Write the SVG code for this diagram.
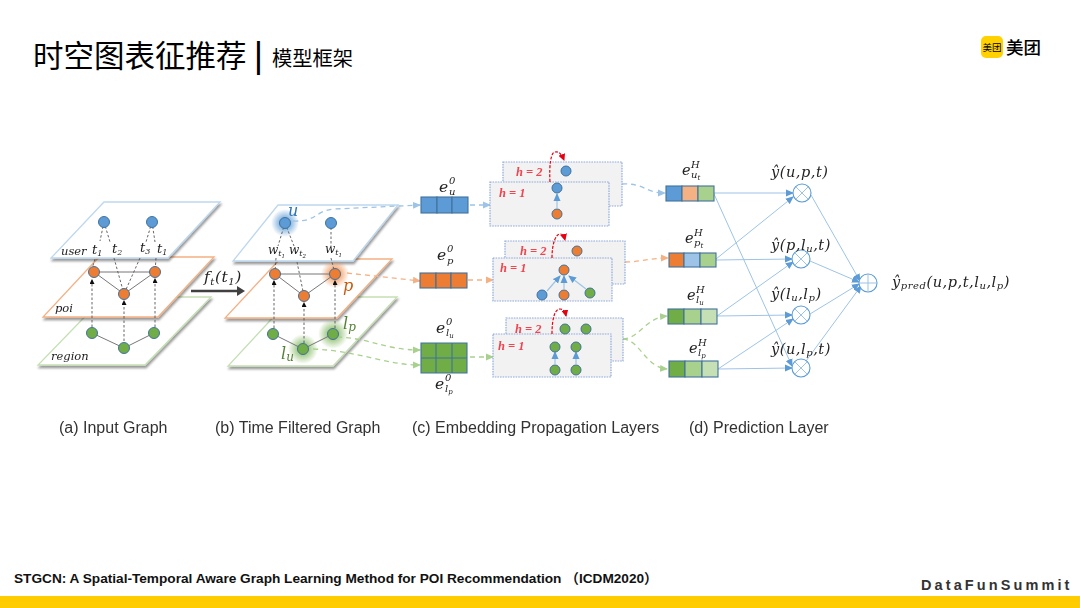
<svg xmlns="http://www.w3.org/2000/svg" width="1080" height="608" viewBox="0 0 1080 608">
<style>
.cjk{font-family:"Noto Sans CJK SC","Noto Sans",sans-serif;fill:#000}
.cap{font-family:"Liberation Sans",Arial,sans-serif;font-size:16px;fill:#333}
.m{font-family:"DejaVu Serif","Liberation Serif",serif;font-style:italic;fill:#222}
.w{letter-spacing:.55px}
.s{font-size:10px}.ss{font-size:8px}
.plane{fill:#fff;stroke-width:1.3;filter:url(#sh)}
.pb{stroke:#bdd7ee}.po{stroke:#f4b183}.pg{stroke:#c5e0b4}
.nb{fill:#5b9bd5;stroke:#41719c;stroke-width:1}
.no{fill:#ed7d31;stroke:#41719c;stroke-width:1}
.ng{fill:#70ad47;stroke:#41719c;stroke-width:1}
.e{fill:none;stroke:#777;stroke-width:1}
.d{fill:none;stroke:#555;stroke-width:.9;stroke-dasharray:2.5 2}
.db{fill:none;stroke:#9dc3e6;stroke-width:1.3;stroke-dasharray:5 4}
.dob{fill:none;stroke:#f4b183;stroke-width:1.3;stroke-dasharray:5 4}
.dg{fill:none;stroke:#a9d18e;stroke-width:1.3;stroke-dasharray:5 4}
.box{fill:#f2f2f2;stroke:#8faadc;stroke-width:1.2;stroke-dasharray:1.6 1}
.h{font-family:"Liberation Serif",serif;font-style:italic;font-size:12.5px;font-weight:bold;fill:#ee4450}
.cell{stroke:#41719c;stroke-width:1.1}
.l{fill:none;stroke:#9dc3e6;stroke-width:1}
.op{fill:#fff;stroke:#5b9bd5;stroke-width:1.1}
.opl{stroke:#9dc3e6;stroke-width:1}
.up{stroke:#9dc3e6;stroke-width:1.2}
</style>
<defs>
<filter id="sh" x="-10%" y="-10%" width="120%" height="125%"><feDropShadow dx="1" dy="2.5" stdDeviation="1.1" flood-color="#000" flood-opacity=".4"/></filter>
<filter id="soft" x="0" y="0" width="100%" height="100%" filterUnits="userSpaceOnUse"><feGaussianBlur stdDeviation=".4"/></filter>
<radialGradient id="gb"><stop offset=".4" stop-color="#5b9bd5" stop-opacity=".7"/><stop offset="1" stop-color="#5b9bd5" stop-opacity="0"/></radialGradient>
<radialGradient id="go"><stop offset=".4" stop-color="#ed7d31" stop-opacity=".6"/><stop offset="1" stop-color="#ed7d31" stop-opacity="0"/></radialGradient>
<radialGradient id="gg"><stop offset=".4" stop-color="#70ad47" stop-opacity=".6"/><stop offset="1" stop-color="#70ad47" stop-opacity="0"/></radialGradient>
<marker id="ak" markerUnits="userSpaceOnUse" markerWidth="5" markerHeight="5" refX="4" refY="2.5" orient="auto"><path d="M0 0L5 2.5L0 5Z" fill="#111"/></marker>
<marker id="ab" markerUnits="userSpaceOnUse" markerWidth="8" markerHeight="8" refX="7" refY="4" orient="auto"><path d="M0 .5L8 4L0 7.5Z" fill="#9dc3e6"/></marker>
<marker id="ao" markerUnits="userSpaceOnUse" markerWidth="8" markerHeight="8" refX="7" refY="4" orient="auto"><path d="M0 .5L8 4L0 7.5Z" fill="#f4b183"/></marker>
<marker id="ag" markerUnits="userSpaceOnUse" markerWidth="8" markerHeight="8" refX="7" refY="4" orient="auto"><path d="M0 .5L8 4L0 7.5Z" fill="#a9d18e"/></marker>
<marker id="au" markerUnits="userSpaceOnUse" markerWidth="8" markerHeight="8" refX="7" refY="4" orient="auto"><path d="M0 .5L8 4L0 7.5Z" fill="#5b9bd5"/></marker>
<marker id="ar" markerUnits="userSpaceOnUse" markerWidth="7" markerHeight="7" refX="6" refY="3.5" orient="auto"><path d="M0 0L7 3.5L0 7Z" fill="#e60012"/></marker>
</defs>
<rect width="1080" height="608" fill="#fff"/>

<g id="title">
<text class="cjk" x="33" y="67" font-size="30.5">时空图表征推荐</text>
<text class="cjk" x="254" y="67" font-size="30" font-weight="bold">|</text>
<text class="cjk" x="272" y="66" font-size="20.3">模型框架</text>
</g>
<g id="logo">
<rect x="981" y="36" width="22" height="22" rx="5" fill="#ffd100"/>
<text class="cjk" x="992" y="51" font-size="9.5" text-anchor="middle">美团</text>
<text class="cjk" x="1006" y="54" font-size="17.5" font-weight="500">美团</text>
</g>

<g id="figure" filter="url(#soft)">
<g id="planes">
<path class="plane pg" d="M104 297H211L145 365H38Z"/>
<path class="plane po" d="M99 257H214L158 317H43Z"/>
<path class="plane pb" d="M104 202H220L168 258H51Z"/>
<path class="plane pg" d="M292 297H397L333 366H228Z"/>
<path class="plane po" d="M280 259H392L337 318H225Z"/>
<path class="plane pb" d="M278 205H398L353 261H233Z"/>
</g>

<g id="glows">
<circle cx="285" cy="223" r="14" fill="url(#gb)"/>
<circle cx="335" cy="274" r="14" fill="url(#go)"/>
<circle cx="303" cy="349" r="15" fill="url(#gg)"/>
<circle cx="333" cy="334" r="15" fill="url(#gg)"/>
</g>

<g id="connectors">
<path class="e" d="M94 272H155L124 294ZM92 333L124 348L154 333"/>
<path class="e" d="M275 274H335L304 296ZM273 334L303 349L333 334"/>
<path class="d" d="M104 222L100 241M95 259L91 272M104 222L110 242M114 258L124 294M152 222L146 242M140 258L124 294M152 222L155 242M156 258L155 272"/>
<path class="d" d="M285 223L278 246M276 258L275 272M285 223L294 246M297 262L304 296M331 223L331 246M331 258L335 274"/>
<path class="d" marker-end="url(#ak)" d="M92 327V280"/>
<path class="d" marker-end="url(#ak)" d="M124 341V301"/>
<path class="d" marker-end="url(#ak)" d="M155 327V279"/>
<path class="d" marker-end="url(#ak)" d="M274 328V281"/>
<path class="d" marker-end="url(#ak)" d="M304 343V303"/>
<path class="d" marker-end="url(#ak)" d="M335 328V281"/>
<path d="M191 291H240" stroke="#404040" stroke-width="2.5" fill="none"/>
<path d="M237 286L245 291L237 296Z" fill="#404040"/>
<path class="db" marker-end="url(#ab)" d="M293 221C318 222 315 210 335 209L420 205"/>
<path class="dob" marker-end="url(#ao)" d="M347 273L420 281"/>
<path class="dg" marker-end="url(#ag)" d="M337 337C370 338 385 350 420 350"/>
<path class="dg" marker-end="url(#ag)" d="M313 349C360 351 385 365 420 365"/>
<path class="db" marker-end="url(#ab)" d="M470 205H490"/>
<path class="dob" marker-end="url(#ao)" d="M468 280H493"/>
<path class="dg" marker-end="url(#ag)" d="M470 357H493"/>
<path class="db" marker-end="url(#ab)" d="M622 184C645 183 645 193 665 193"/>
<path class="dob" marker-end="url(#ao)" d="M625 262C640 262 650 258 668 258"/>
<path class="dg" marker-end="url(#ag)" d="M623 339C640 338 645 318 667 316"/>
<path class="dg" marker-end="url(#ag)" d="M623 339C640 340 645 367 667 369"/>
<path class="l" marker-end="url(#au)" d="M714 193H793"/>
<path class="l" marker-end="url(#au)" d="M714 194L792 366"/>
<path class="l" marker-end="url(#au)" d="M716 259L793 197"/>
<path class="l" marker-end="url(#au)" d="M716 260L792 259"/>
<path class="l" marker-end="url(#au)" d="M717 316L793 262"/>
<path class="l" marker-end="url(#au)" d="M717 316L792 315"/>
<path class="l" marker-end="url(#au)" d="M718 369L793 319"/>
<path class="l" marker-end="url(#au)" d="M718 369L792 368"/>
<path class="l" marker-end="url(#au)" d="M811 195L860 281"/>
<path class="l" marker-end="url(#au)" d="M810 261L859 282"/>
<path class="l" marker-end="url(#au)" d="M810 314L859 284"/>
<path class="l" marker-end="url(#au)" d="M806 361L861 286"/>
</g>

<g id="panel-a-nodes">
<circle id="a-u1" class="nb" cx="104" cy="222" r="5.5"/><circle id="a-u2" class="nb" cx="152" cy="222" r="5.5"/>
<circle id="a-p1" class="no" cx="94" cy="272" r="5.5"/><circle id="a-p2" class="no" cx="155" cy="272" r="5.5"/><circle id="a-p3" class="no" cx="124" cy="294" r="5.5"/>
<circle id="a-r1" class="ng" cx="92" cy="333" r="5.5"/><circle id="a-r2" class="ng" cx="124" cy="348" r="5.5"/><circle id="a-r3" class="ng" cx="154" cy="333" r="5.5"/>
</g>
<g id="panel-b-nodes">
<circle id="b-u1" class="nb" cx="285" cy="223" r="5.5"/><circle id="b-u2" class="nb" cx="331" cy="223" r="5.5"/>
<circle id="b-p1" class="no" cx="275" cy="274" r="5.5"/><circle id="b-p2" class="no" cx="335" cy="274" r="5.5"/><circle id="b-p3" class="no" cx="304" cy="296" r="5.5"/>
<circle id="b-r1" class="ng" cx="273" cy="334" r="5.5"/><circle id="b-r2" class="ng" cx="303" cy="349" r="5.5"/><circle id="b-r3" class="ng" cx="333" cy="334" r="5.5"/>
</g>

<g id="plane-labels">
<text class="m" x="61" y="255" font-size="11.5">user</text>
<text class="m" x="55" y="312" font-size="11.5">poi</text>
<text class="m" x="51" y="360" font-size="11.5">region</text>
<text class="m" x="92" y="254" font-size="13">t<tspan class="ss" dy="2">1</tspan></text>
<text class="m" x="112" y="253" font-size="13">t<tspan class="ss" dy="2">2</tspan></text>
<text class="m" x="140" y="252" font-size="13">t<tspan class="ss" dy="2">3</tspan></text>
<text class="m" x="157" y="253" font-size="13">t<tspan class="ss" dy="2">1</tspan></text>
<text class="m" x="268" y="254" font-size="12">w<tspan class="ss" dy="2">t</tspan><tspan font-size="5.5" dy="2">1</tspan></text>
<text class="m" x="289" y="254" font-size="12">w<tspan class="ss" dy="2">t</tspan><tspan font-size="5.5" dy="2">2</tspan></text>
<text class="m" x="325" y="253" font-size="12">w<tspan class="ss" dy="2">t</tspan><tspan font-size="5.5" dy="2">1</tspan></text>
<text class="m" x="288" y="216" font-size="16" style="fill:#2e75b6">u</text>
<text class="m" x="343" y="291" font-size="16" style="fill:#c55a11">p</text>
<text class="m" x="281" y="359" font-size="16" style="fill:#548235">l<tspan font-size="12" dy="2">u</tspan></text>
<text class="m" x="343" y="329" font-size="16" style="fill:#548235">l<tspan font-size="12" dy="2">p</tspan></text>
<text class="m w" x="204" y="282" font-size="15.5">f<tspan class="s" dy="3">t</tspan><tspan dy="-3">(t</tspan><tspan class="s" dy="3">1</tspan><tspan dy="-3">)</tspan></text>
</g>

<g id="layers-1">
<rect class="box" x="503" y="162" width="119" height="44"/>
<text class="h" x="516" y="176">h = 2</text>
<rect class="box" x="490" y="182" width="119" height="44"/>
<text class="h" x="499" y="197">h = 1</text>
<path class="up" marker-end="url(#au)" d="M557 208V194"/>
<circle class="nb" cx="566" cy="171" r="5"/><circle class="nb" cx="557" cy="188" r="5"/><circle class="no" cx="557" cy="214" r="5"/>
<path d="M550 182C549 165 551 152 555 152C559 151 562 155 564 160" fill="none" stroke="#e60012" stroke-width="1.2" stroke-dasharray="3 1.5" marker-end="url(#ar)"/>
</g>
<g id="layers-2">
<rect class="box" x="505" y="241" width="120" height="43"/>
<text class="h" x="520" y="255">h = 2</text>
<rect class="box" x="493" y="258" width="119" height="43"/>
<text class="h" x="500" y="272">h = 1</text>
<path class="up" marker-end="url(#au)" d="M547 291L560 276"/><path class="up" marker-end="url(#au)" d="M564 289V276"/><path class="up" marker-end="url(#au)" d="M586 289L569 276"/>
<circle class="no" cx="577" cy="251" r="5"/><circle class="no" cx="564" cy="270" r="5"/>
<circle class="nb" cx="542" cy="295" r="5"/><circle class="no" cx="564" cy="295" r="5"/><circle class="ng" cx="590" cy="293" r="5"/>
<path d="M552 258C552 243 556 234 560 234C563 234 564 236 565 240" fill="none" stroke="#e60012" stroke-width="1.2" stroke-dasharray="3 1.5" marker-end="url(#ar)"/>
</g>
<g id="layers-3">
<rect class="box" x="506" y="318" width="117" height="43"/>
<text class="h" x="515" y="333">h = 2</text>
<rect class="box" x="493" y="334" width="118" height="43"/>
<text class="h" x="498" y="350">h = 1</text>
<path class="up" marker-end="url(#au)" d="M555 364V352"/><path class="up" marker-end="url(#au)" d="M576 364V352"/>
<circle class="ng" cx="565" cy="329" r="5"/><circle class="ng" cx="586" cy="329" r="5"/>
<circle class="ng" cx="555" cy="347" r="5"/><circle class="ng" cx="576" cy="347" r="5"/><circle class="ng" cx="555" cy="370" r="5"/><circle class="ng" cx="576" cy="370" r="5"/>
<path d="M552 334C552 318 555 309 560 309C563 309 565 311 566 316" fill="none" stroke="#e60012" stroke-width="1.2" stroke-dasharray="3 1.5" marker-end="url(#ar)"/>
</g>

<g id="emb-u">
<rect class="cell" x="421" y="197" width="16" height="16" fill="#5b9bd5"/><rect class="cell" x="437" y="197" width="15" height="16" fill="#5b9bd5"/><rect class="cell" x="452" y="197" width="16" height="16" fill="#5b9bd5"/>
<text class="m" x="439" y="192" font-size="15.5">e<tspan class="s" x="449" y="184">0</tspan><tspan class="s" x="449" y="195">u</tspan></text>
</g>
<g id="emb-p">
<rect class="cell" x="420" y="273" width="16" height="15" fill="#ed7d31"/><rect class="cell" x="436" y="273" width="15" height="15" fill="#ed7d31"/><rect class="cell" x="451" y="273" width="16" height="15" fill="#ed7d31"/>
<text class="m" x="437" y="260" font-size="15.5">e<tspan class="s" x="447" y="252">0</tspan><tspan class="s" x="447" y="264">p</tspan></text>
</g>
<g id="emb-l">
<path class="cell" fill="#70ad47" d="M421 343H467V373H421ZM421 358H467M436 343V373M452 343V373"/>
<text class="m" x="436" y="333" font-size="15.5">e<tspan class="s" x="446" y="325">0</tspan><tspan class="s" x="446" y="336">l</tspan><tspan font-size="7" dy="2">u</tspan></text>
<text class="m" x="435" y="389" font-size="15.5">e<tspan class="s" x="445" y="381">0</tspan><tspan class="s" x="445" y="392">l</tspan><tspan font-size="7" dy="2">p</tspan></text>
</g>

<g id="pred-u">
<rect class="cell" x="666" y="186" width="16" height="15" fill="#5b9bd5"/><rect class="cell" x="682" y="186" width="16" height="15" fill="#f4b183"/><rect class="cell" x="698" y="186" width="16" height="15" fill="#a9d18e"/>
<text class="m" x="682" y="175" font-size="14.5">e<tspan class="s" x="691" y="168">H</tspan><tspan class="s" x="691" y="178">u</tspan><tspan font-size="7" dy="2">t</tspan></text>
</g>
<g id="pred-p">
<rect class="cell" x="669" y="253" width="15" height="14" fill="#ed7d31"/><rect class="cell" x="684" y="253" width="16" height="14" fill="#9dc3e6"/><rect class="cell" x="700" y="253" width="16" height="14" fill="#a9d18e"/>
<text class="m" x="685" y="243" font-size="14.5">e<tspan class="s" x="694" y="236">H</tspan><tspan class="s" x="694" y="246">p</tspan><tspan font-size="7" dy="2">t</tspan></text>
</g>
<g id="pred-lu">
<rect class="cell" x="668" y="309" width="16" height="15" fill="#70ad47"/><rect class="cell" x="684" y="309" width="17" height="15" fill="#a9d18e"/><rect class="cell" x="701" y="309" width="16" height="15" fill="#c5e0b4"/>
<text class="m" x="687" y="300" font-size="14.5">e<tspan class="s" x="696" y="293">H</tspan><tspan class="s" x="696" y="303">l</tspan><tspan font-size="7" dy="2">u</tspan></text>
</g>
<g id="pred-lp">
<rect class="cell" x="669" y="361" width="16" height="16" fill="#70ad47"/><rect class="cell" x="685" y="361" width="17" height="16" fill="#a9d18e"/><rect class="cell" x="702" y="361" width="16" height="16" fill="#c5e0b4"/>
<text class="m" x="689" y="353" font-size="14.5">e<tspan class="s" x="698" y="346">H</tspan><tspan class="s" x="698" y="356">l</tspan><tspan font-size="7" dy="2">p</tspan></text>
</g>

<g id="op-1"><circle class="op" cx="802" cy="193" r="9"/><path class="opl" d="M796 187L808 199M808 187L796 199"/></g>
<g id="op-2"><circle class="op" cx="801" cy="259" r="9"/><path class="opl" d="M795 253L807 265M807 253L795 265"/></g>
<g id="op-3"><circle class="op" cx="801" cy="315" r="9"/><path class="opl" d="M795 309L807 321M807 309L795 321"/></g>
<g id="op-4"><circle class="op" cx="801" cy="368" r="9"/><path class="opl" d="M795 362L807 374M807 362L795 374"/></g>
<g id="op-sum"><circle class="op" cx="868" cy="283" r="9"/><path class="opl" d="M859 283H877M868 274V292"/></g>

<g id="pred-labels">
<text class="m w" x="771" y="177" font-size="14.5">ŷ(u,p,t)</text>
<text class="m w" x="771" y="250" font-size="14.5">ŷ(p,l<tspan class="s" dy="2">u</tspan><tspan dy="-2">,t)</tspan></text>
<text class="m w" x="771" y="299" font-size="14.5">ŷ(l<tspan class="s" dy="2">u</tspan><tspan dy="-2">,l</tspan><tspan class="s" dy="2">p</tspan><tspan dy="-2">)</tspan></text>
<text class="m w" x="771" y="354" font-size="14.5">ŷ(u,l<tspan class="s" dy="2">p</tspan><tspan dy="-2">,t)</tspan></text>
<text class="m w" x="892" y="287" font-size="14.5">ŷ<tspan class="s" dy="2">pred</tspan><tspan dy="-2">(u,p,t,l</tspan><tspan class="s" dy="2">u</tspan><tspan dy="-2">,l</tspan><tspan class="s" dy="2">p</tspan><tspan dy="-2">)</tspan></text>
</g>

<g id="captions">
<text class="cap" x="59" y="433">(a) Input Graph</text>
<text class="cap" x="215" y="433">(b) Time Filtered Graph</text>
<text class="cap" x="412" y="433">(c) Embedding Propagation Layers</text>
<text class="cap" x="689" y="433">(d) Prediction Layer</text>
</g>
</g>

<g id="footer">
<text x="14" y="583" font-family="Liberation Sans,Noto Sans CJK SC,sans-serif" font-size="13.65" font-weight="bold" fill="#111">STGCN: A Spatial-Temporal Aware Graph Learning Method for POI Recommendation （ICDM2020）</text>
<text x="921" y="590" font-family="Liberation Sans,sans-serif" font-size="14.5" font-weight="bold" letter-spacing="3.1" fill="#333">DataFunSummit</text>
<rect x="0" y="596" width="1080" height="12" fill="#ffcc00"/>
</g>
</svg>
